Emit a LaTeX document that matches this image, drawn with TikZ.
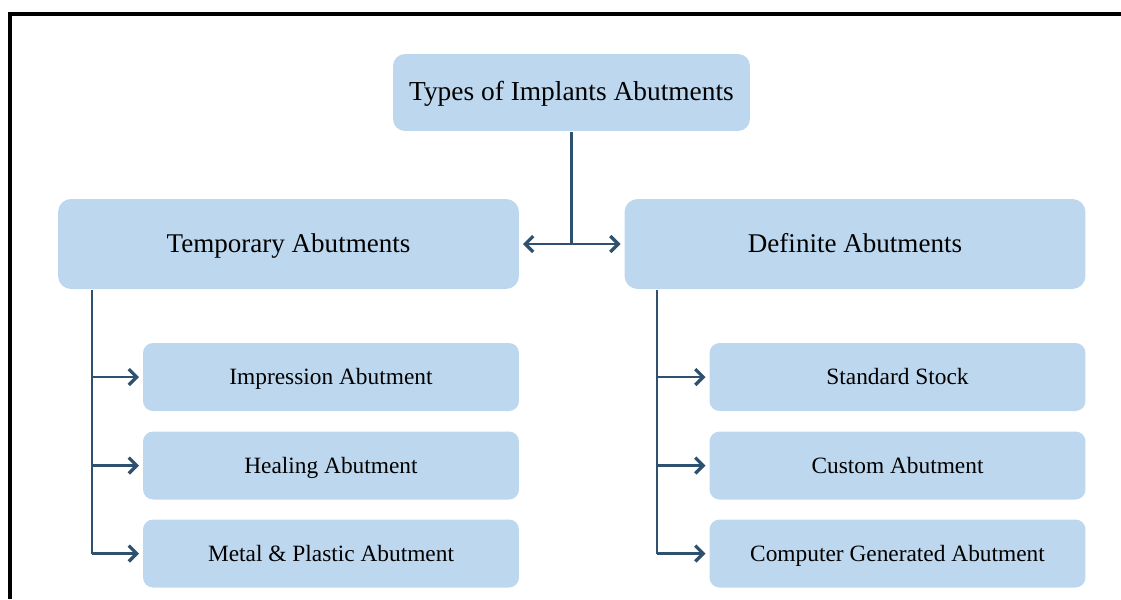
\documentclass[tikz,border=0pt]{standalone}
\usepackage{fontspec}
\setmainfont{Liberation Serif}
\usepackage{xcolor}
\usetikzlibrary{arrows.meta}

\definecolor{boxblue}{HTML}{BDD7EE}
\definecolor{linkblue}{HTML}{2E5170}
\definecolor{inkdark}{HTML}{161B26}

\begin{document}
\begin{tikzpicture}
            [
                x=0.02cm, y=-0.02cm,
                line width=1.6pt,
                font=\color{inkdark}
            ]
            \tikzset{
                rootnode/.style = {rectangle, fill=boxblue, rounded corners=0.24cm, align=center,
                                   text height=10.9pt, text depth=1.5pt,
                                   minimum width=7.14cm, minimum height=1.54cm, font=\fontsize{15.6}{18}\selectfont},
                groupnode/.style = {rectangle, fill=boxblue, rounded corners=0.26cm, align=center,
                                    text height=10.8pt, text depth=1.5pt,
                                    minimum width=9.22cm, minimum height=1.8cm, font=\fontsize{15.4}{18}\selectfont},
                leafnode/.style = {rectangle, fill=boxblue, rounded corners=0.2cm, align=center,
                                   text height=9.3pt, text depth=0.5pt,
                                   minimum width=7.52cm, minimum height=1.36cm, font=\fontsize{13.3}{16}\selectfont},
                linkstyle/.style = {draw=linkblue},
                arrowstyle/.style = {draw=linkblue, -{Straight Barb[length=4.5pt,width=9pt,line width=1.9pt]}, shorten >=1.5pt}
            }
            % frame
            \useasboundingbox (0,0) rectangle (1121,599);
            \draw[line width=1.8pt, black] (10,599) -- (10,14) -- (1121,14);

            \node [rootnode] (root) at (571.5,92.5) {Types of Implants Abutments};
            \node [groupnode] (temp) at (288.5,244) {Temporary Abutments};
            \node [groupnode] (defn) at (855,244) {Definite Abutments};

            \node [leafnode] (impr) at (331,377) {Impression Abutment};
            \node [leafnode] (heal) at (331,465.5) {Healing Abutment};
            \node [leafnode] (metal) at (331,553.5) {Metal \& Plastic Abutment};

            \node [leafnode] (stock) at (897.5,377) {Standard Stock};
            \node [leafnode] (custom) at (897.5,465.5) {Custom Abutment};
            \node [leafnode] (comp) at (897.5,553.5) {Computer Generated Abutment};

            % root to groups
            \coordinate (split) at (root.south |- temp.east);
            \draw [linkstyle] (root.south) -- (split);
            \draw [arrowstyle] (split) -- (temp.east);
            \draw [arrowstyle] (split) -- (defn.west);

            % temporary branch
            \coordinate (tl) at (92,0);
            \draw [linkstyle] (tl |- temp.south) -- (tl |- metal.west);
            \foreach \leaf in {impr,heal,metal}
                \draw [arrowstyle] (tl |- \leaf.west) -- (\leaf.west);

            % definite branch
            \coordinate (tr) at (657,0);
            \draw [linkstyle] (tr |- defn.south) -- (tr |- comp.west);
            \foreach \leaf in {stock,custom,comp}
                \draw [arrowstyle] (tr |- \leaf.west) -- (\leaf.west);
        \end{tikzpicture}
\end{document}
